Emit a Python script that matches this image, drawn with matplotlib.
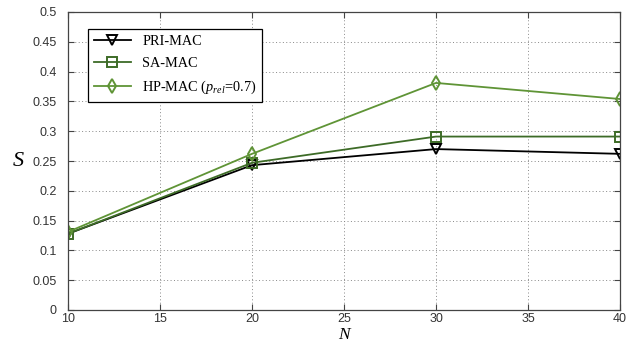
import matplotlib
matplotlib.use("Agg")
import matplotlib.pyplot as plt

N = [10, 20, 30, 40]
pri_mac = [0.128, 0.243, 0.270, 0.262]
sa_mac = [0.128, 0.247, 0.291, 0.291]
hp_mac = [0.131, 0.262, 0.381, 0.354]
labels = ["PRI-MAC", "SA-MAC", r"HP-MAC ($p_{rel}$=0.7)"]
xticks = [10, 15, 20, 25, 30, 35, 40]
yticks = [0, 0.05, 0.1, 0.15, 0.2, 0.25, 0.3, 0.35, 0.4, 0.45, 0.5]

plt.rcParams['mathtext.fontset'] = 'custom'
plt.rcParams['mathtext.it'] = 'Liberation Serif:italic'
plt.rcParams['mathtext.rm'] = 'Liberation Serif'

fig = plt.figure(figsize=(6.36, 3.42), dpi=100)
ax = fig.add_axes([68/636, 32/342, (620-68)/636, (310-12)/342])

ax.plot(N, pri_mac, color='black', lw=1.3, marker='v', ms=7, mfc='none', mew=1.4, label=labels[0])
ax.plot(N, sa_mac, color='#3d6b27', lw=1.3, marker='s', ms=7, mfc='none', mew=1.4, label=labels[1])
ax.plot(N, hp_mac, color='#5f9436', lw=1.3, marker='d', ms=7, mfc='none', mew=1.4, label=labels[2])

ax.set_xlim(10, 40)
ax.set_ylim(0, 0.5)
ax.set_xticks(xticks)
ax.set_yticks(yticks)
ax.set_xticklabels([str(v) for v in xticks])
ax.set_yticklabels(['0', '0.05', '0.1', '0.15', '0.2', '0.25', '0.3', '0.35', '0.4', '0.45', '0.5'])
for lab in ax.get_xticklabels() + ax.get_yticklabels():
    lab.set_fontfamily('Liberation Sans')
    lab.set_fontsize(9)
    lab.set_color('#333333')
ax.grid(True, linestyle=(0, (1, 2.5)), color='#888888', lw=0.7)
ax.tick_params(direction='in', length=4, width=0.8, colors='#444444', top=True, right=True, labelcolor='#333333')
ax.tick_params(axis='x', pad=2)
ax.tick_params(axis='y', pad=8)
for s in ax.spines.values():
    s.set_color('#444444')
    s.set_linewidth(0.9)

ax.set_xlabel('N', fontsize=12.5, fontstyle='italic', family='Liberation Serif', labelpad=0)
ax.xaxis.set_label_coords(0.5, -0.056)
ax.set_ylabel('S', fontsize=16, fontstyle='italic', family='Liberation Serif', rotation=0)
ax.yaxis.set_label_coords(-0.09, 0.465)

leg = ax.legend(loc='upper left', bbox_to_anchor=(0.036, 0.943), prop={'family': 'Liberation Serif', 'size': 10.3},
                fancybox=False, framealpha=1, edgecolor='black', borderpad=0.4, handlelength=2.6,
                handletextpad=0.8, labelspacing=0.62, borderaxespad=0)
leg.get_frame().set_linewidth(0.9)

fig.savefig('out.png', dpi=100, facecolor='white')
